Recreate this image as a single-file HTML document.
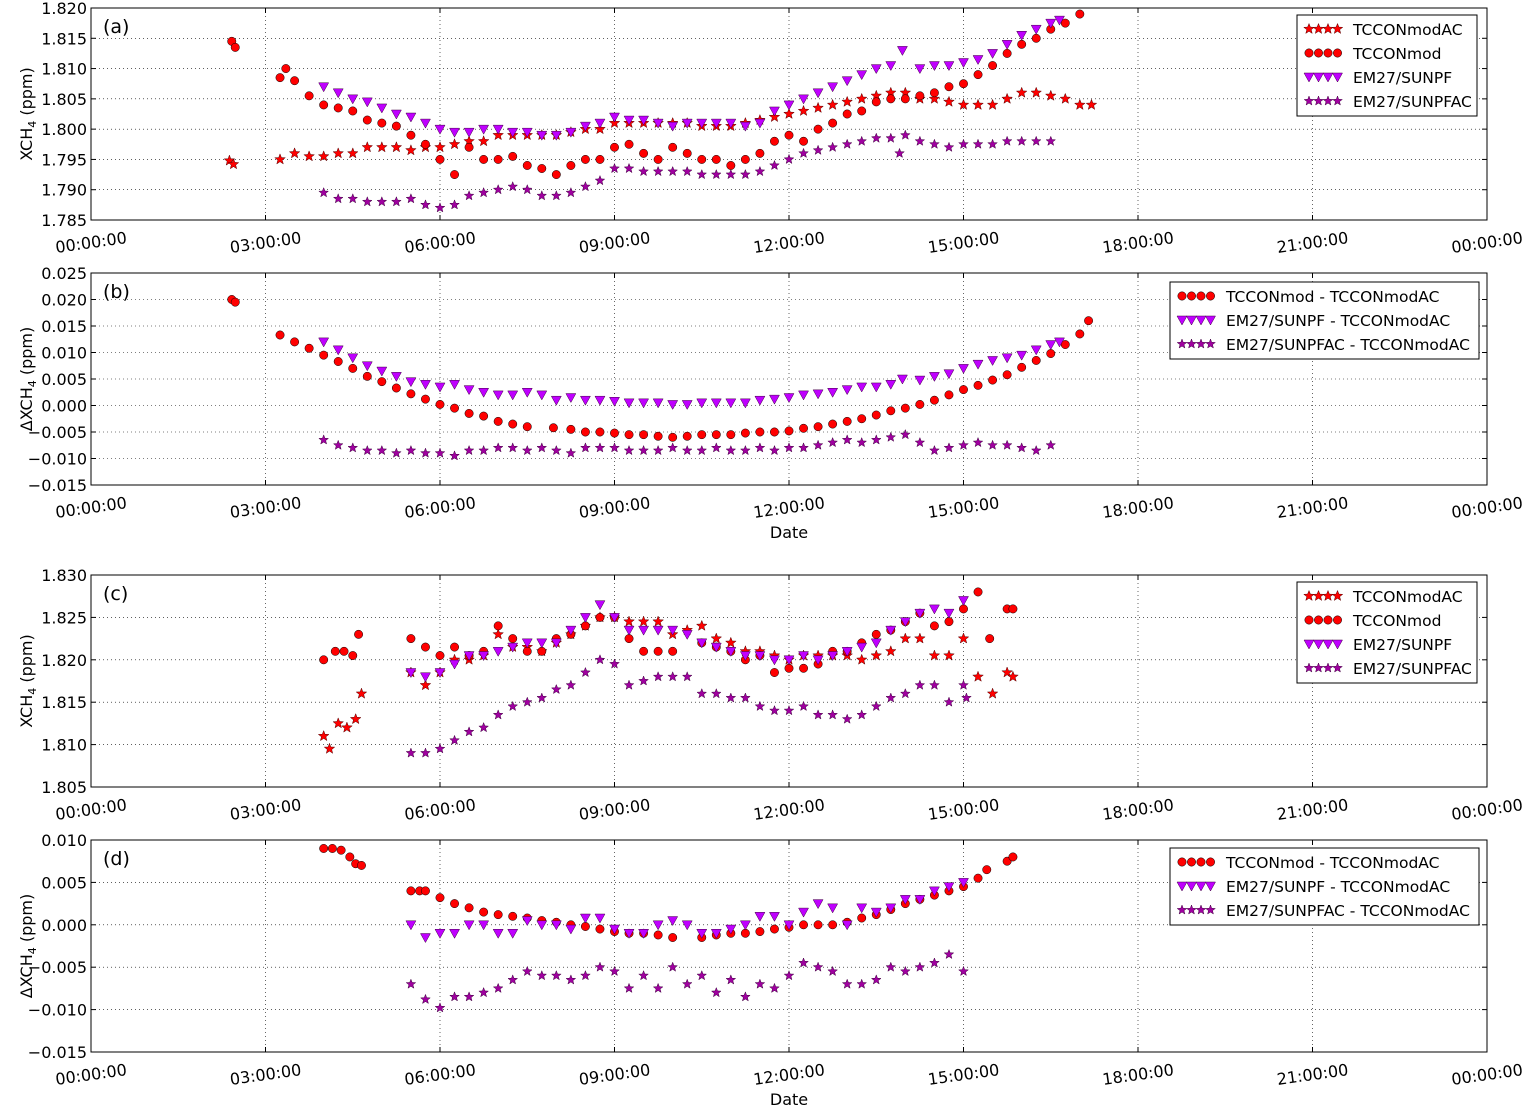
<!DOCTYPE html>
<html><head><meta charset="utf-8">
<style>
body{margin:0;background:#fff;}
svg{display:block;font-family:"DejaVu Sans","Liberation Sans",sans-serif;}
</style></head>
<body>
<svg id="chart" width="1526" height="1106" viewBox="0 0 1526 1106" xmlns="http://www.w3.org/2000/svg"></svg>
<script>
// ---------- Panel (a) data ----------
const aModACT=[2.38,2.45,3.25,3.5,3.75,4.0,4.25,4.5,4.75,5.0,5.25,5.5,5.75,6.0,6.25,6.5,6.75,7.0,7.25,7.5,7.75,8.0,8.25,8.5,8.75,9.0,9.25,9.5,9.75,10.0,10.25,10.5,10.75,11.0,11.25,11.5,11.75,12.0,12.25,12.5,12.75,13.0,13.25,13.5,13.75,14.0,14.25,14.5,14.75,15.0,15.25,15.5,15.75,16.0,16.25,16.5,16.75,17.0,17.2];
const aModACV=[1.7948,1.7942,1.795,1.796,1.7955,1.7955,1.796,1.796,1.797,1.797,1.797,1.7965,1.797,1.797,1.7975,1.798,1.798,1.799,1.799,1.799,1.799,1.799,1.7995,1.800,1.800,1.801,1.801,1.801,1.801,1.801,1.801,1.8005,1.8005,1.8005,1.801,1.8015,1.802,1.8025,1.803,1.8035,1.804,1.8045,1.805,1.8055,1.806,1.806,1.805,1.805,1.8045,1.804,1.804,1.804,1.805,1.806,1.806,1.8055,1.805,1.804,1.804];
const aModT=[2.42,2.48,3.25,3.35,3.5,3.75,4.0,4.25,4.5,4.75,5.0,5.25,5.5,5.75,6.0,6.25,6.5,6.75,7.0,7.25,7.5,7.75,8.0,8.25,8.5,8.75,9.0,9.25,9.5,9.75,10.0,10.25,10.5,10.75,11.0,11.25,11.5,11.75,12.0,12.25,12.5,12.75,13.0,13.25,13.5,13.75,14.0,14.25,14.5,14.75,15.0,15.25,15.5,15.75,16.0,16.25,16.5,16.75,17.0];
const aModV=[1.8145,1.8135,1.8085,1.810,1.808,1.8055,1.804,1.8035,1.803,1.8015,1.801,1.8005,1.799,1.7975,1.795,1.7925,1.797,1.795,1.795,1.7955,1.794,1.7935,1.7925,1.794,1.795,1.795,1.797,1.7975,1.796,1.795,1.797,1.796,1.795,1.795,1.794,1.795,1.796,1.798,1.799,1.798,1.800,1.801,1.8025,1.803,1.8045,1.805,1.805,1.8055,1.806,1.807,1.8075,1.809,1.8105,1.8125,1.814,1.815,1.8165,1.8175,1.819];
const aPfT=[4.0,4.25,4.5,4.75,5.0,5.25,5.5,5.75,6.0,6.25,6.5,6.75,7.0,7.25,7.5,7.75,8.0,8.25,8.5,8.75,9.0,9.25,9.5,9.75,10.0,10.25,10.5,10.75,11.0,11.25,11.5,11.75,12.0,12.25,12.5,12.75,13.0,13.25,13.5,13.75,13.95,14.25,14.5,14.75,15.0,15.25,15.5,15.75,16.0,16.25,16.5,16.65];
const aPfV=[1.807,1.806,1.805,1.8045,1.8035,1.8025,1.802,1.801,1.800,1.7995,1.7995,1.800,1.800,1.7995,1.7995,1.799,1.799,1.7995,1.8005,1.801,1.802,1.8015,1.8015,1.801,1.8005,1.801,1.801,1.801,1.801,1.8005,1.801,1.803,1.804,1.805,1.806,1.807,1.808,1.809,1.810,1.8105,1.813,1.810,1.8105,1.8105,1.811,1.8115,1.8125,1.814,1.8155,1.8165,1.8175,1.818];
const aPfacT=[4.0,4.25,4.5,4.75,5.0,5.25,5.5,5.75,6.0,6.25,6.5,6.75,7.0,7.25,7.5,7.75,8.0,8.25,8.5,8.75,9.0,9.25,9.5,9.75,10.0,10.25,10.5,10.75,11.0,11.25,11.5,11.75,12.0,12.25,12.5,12.75,13.0,13.25,13.5,13.75,13.9,14.0,14.25,14.5,14.75,15.0,15.25,15.5,15.75,16.0,16.25,16.5];
const aPfacV=[1.7895,1.7885,1.7885,1.788,1.788,1.788,1.7885,1.7875,1.787,1.7875,1.789,1.7895,1.790,1.7905,1.790,1.789,1.789,1.7895,1.7905,1.7915,1.7935,1.7935,1.793,1.793,1.793,1.793,1.7925,1.7925,1.7925,1.7925,1.793,1.794,1.795,1.796,1.7965,1.797,1.7975,1.798,1.7985,1.7985,1.796,1.799,1.798,1.7975,1.797,1.7975,1.7975,1.7975,1.798,1.798,1.798,1.798];
// ---------- Panel (b) data ----------
const bModT=[2.42,2.48,3.25,3.5,3.75,4.0,4.25,4.5,4.75,5.0,5.25,5.5,5.75,6.0,6.25,6.5,6.75,7.0,7.25,7.5,7.95,8.25,8.5,8.75,9.0,9.25,9.5,9.75,10.0,10.25,10.5,10.75,11.0,11.25,11.5,11.75,12.0,12.25,12.5,12.75,13.0,13.25,13.5,13.75,14.0,14.25,14.5,14.75,15.0,15.25,15.5,15.75,16.0,16.25,16.5,16.75,17.0,17.15];
const bModV=[0.020,0.0195,0.0133,0.012,0.0108,0.0095,0.0083,0.007,0.0055,0.0045,0.0033,0.0022,0.0012,0.0002,-0.0005,-0.0015,-0.002,-0.003,-0.0035,-0.004,-0.0042,-0.0045,-0.005,-0.005,-0.0052,-0.0055,-0.0055,-0.0058,-0.006,-0.0058,-0.0055,-0.0055,-0.0055,-0.0052,-0.005,-0.005,-0.0048,-0.0043,-0.004,-0.0035,-0.003,-0.0025,-0.0018,-0.001,-0.0005,0.0002,0.001,0.002,0.003,0.0038,0.0048,0.0058,0.0072,0.0085,0.0098,0.0115,0.0135,0.016];
const bPfT=aPfT;
const bPfV=[0.012,0.0105,0.009,0.0075,0.0065,0.0055,0.0045,0.004,0.0035,0.004,0.003,0.0025,0.002,0.002,0.0025,0.002,0.001,0.0015,0.001,0.001,0.0008,0.0005,0.0005,0.0005,0.0002,0.0002,0.0005,0.0005,0.0005,0.0005,0.001,0.0012,0.0015,0.002,0.0022,0.0025,0.003,0.0035,0.0035,0.004,0.005,0.0048,0.0055,0.006,0.007,0.0078,0.0085,0.009,0.0095,0.0105,0.0115,0.012];
const bPfacT=[4.0,4.25,4.5,4.75,5.0,5.25,5.5,5.75,6.0,6.25,6.5,6.75,7.0,7.25,7.5,7.75,8.0,8.25,8.5,8.75,9.0,9.25,9.5,9.75,10.0,10.25,10.5,10.75,11.0,11.25,11.5,11.75,12.0,12.25,12.5,12.75,13.0,13.25,13.5,13.75,14.0,14.25,14.5,14.75,15.0,15.25,15.5,15.75,16.0,16.25,16.5];
const bPfacV=[-0.0065,-0.0075,-0.008,-0.0085,-0.0085,-0.009,-0.0085,-0.009,-0.009,-0.0095,-0.0085,-0.0085,-0.008,-0.008,-0.0085,-0.008,-0.0085,-0.009,-0.008,-0.008,-0.008,-0.0085,-0.0085,-0.0085,-0.008,-0.0085,-0.0085,-0.008,-0.0085,-0.0085,-0.008,-0.0085,-0.008,-0.008,-0.0075,-0.007,-0.0065,-0.007,-0.0065,-0.006,-0.0055,-0.007,-0.0085,-0.008,-0.0075,-0.007,-0.0075,-0.0075,-0.008,-0.0085,-0.0075];
// ---------- Panel (c) data ----------
const cModT=[4.0,4.2,4.35,4.5,4.6,5.5,5.75,6.0,6.25,6.5,6.75,7.0,7.25,7.5,7.75,8.0,8.25,8.5,8.75,9.0,9.25,9.5,9.75,10.0,10.5,10.75,11.0,11.25,11.5,11.75,12.0,12.25,12.5,12.75,13.0,13.25,13.5,13.75,14.0,14.25,14.5,14.75,15.0,15.25,15.45,15.75,15.85];
const cModV=[1.820,1.821,1.821,1.8205,1.823,1.8225,1.8215,1.8205,1.8215,1.8205,1.821,1.824,1.8225,1.821,1.821,1.8225,1.823,1.824,1.825,1.825,1.8225,1.821,1.821,1.821,1.822,1.8215,1.821,1.820,1.8205,1.8185,1.819,1.819,1.8195,1.821,1.821,1.822,1.823,1.8235,1.8245,1.8255,1.824,1.8245,1.826,1.828,1.8225,1.826,1.826];
const cModACT=[4.0,4.1,4.25,4.4,4.55,4.65,5.5,5.75,6.0,6.25,6.5,6.75,7.0,7.25,7.5,7.75,8.0,8.25,8.5,8.75,9.0,9.25,9.5,9.75,10.0,10.25,10.5,10.75,11.0,11.25,11.5,11.75,12.0,12.25,12.5,12.75,13.0,13.25,13.5,13.75,14.0,14.25,14.5,14.75,15.0,15.25,15.5,15.75,15.85];
const cModACV=[1.811,1.8095,1.8125,1.812,1.813,1.816,1.8185,1.817,1.8185,1.820,1.820,1.8205,1.823,1.8215,1.8215,1.821,1.822,1.823,1.824,1.825,1.825,1.8245,1.8245,1.8245,1.823,1.8235,1.824,1.8225,1.822,1.821,1.821,1.8205,1.820,1.8205,1.8205,1.8205,1.8205,1.820,1.8205,1.821,1.8225,1.8225,1.8205,1.8205,1.8225,1.818,1.816,1.8185,1.818];
const cPfT=[5.5,5.75,6.0,6.25,6.5,6.75,7.0,7.25,7.5,7.75,8.0,8.25,8.5,8.75,9.0,9.25,9.5,9.75,10.0,10.25,10.5,10.75,11.0,11.25,11.5,11.75,12.0,12.25,12.5,12.75,13.0,13.25,13.5,13.75,14.0,14.25,14.5,14.75,15.0];
const cPfV=[1.8185,1.818,1.8185,1.8195,1.8205,1.8205,1.821,1.8215,1.822,1.822,1.822,1.8235,1.825,1.8265,1.825,1.8235,1.8235,1.8235,1.8235,1.823,1.822,1.8215,1.821,1.8205,1.8205,1.820,1.820,1.8205,1.820,1.8205,1.821,1.8215,1.822,1.8235,1.8245,1.8255,1.826,1.8255,1.827];
const cPfacT=[5.5,5.75,6.0,6.25,6.5,6.75,7.0,7.25,7.5,7.75,8.0,8.25,8.5,8.75,9.0,9.25,9.5,9.75,10.0,10.25,10.5,10.75,11.0,11.25,11.5,11.75,12.0,12.25,12.5,12.75,13.0,13.25,13.5,13.75,14.0,14.25,14.5,14.75,15.0,15.05];
const cPfacV=[1.809,1.809,1.8095,1.8105,1.8115,1.812,1.8135,1.8145,1.815,1.8155,1.8165,1.817,1.8185,1.820,1.8195,1.817,1.8175,1.818,1.818,1.818,1.816,1.816,1.8155,1.8155,1.8145,1.814,1.814,1.8145,1.8135,1.8135,1.813,1.8135,1.8145,1.8155,1.816,1.817,1.817,1.815,1.817,1.8155];
// ---------- Panel (d) data ----------
const dModT=[4.0,4.15,4.3,4.45,4.55,4.65,5.5,5.65,5.75,6.0,6.25,6.5,6.75,7.0,7.25,7.5,7.75,8.0,8.25,8.5,8.75,9.0,9.25,9.5,9.75,10.0,10.5,10.75,11.0,11.25,11.5,11.75,12.0,12.25,12.5,12.75,13.0,13.25,13.5,13.75,14.0,14.25,14.5,14.75,15.0,15.25,15.4,15.75,15.85];
const dModV=[0.009,0.009,0.0088,0.008,0.0072,0.007,0.004,0.004,0.004,0.0032,0.0025,0.002,0.0015,0.0012,0.001,0.0008,0.0005,0.0003,0.0,-0.0002,-0.0005,-0.0008,-0.001,-0.001,-0.0012,-0.0015,-0.0015,-0.0012,-0.001,-0.001,-0.0008,-0.0005,-0.0003,0.0,0.0,0.0,0.0003,0.0008,0.0012,0.0018,0.0025,0.003,0.0035,0.004,0.0045,0.0055,0.0065,0.0075,0.008];
const dPfT=cPfT;
const dPfV=[0.0,-0.0015,-0.001,-0.001,0.0,0.0,-0.001,-0.001,0.0005,0.0,0.0,-0.0005,0.0008,0.0008,-0.0005,-0.001,-0.001,0.0,0.0005,0.0,-0.001,-0.001,-0.0005,0.0,0.001,0.001,0.0,0.0015,0.0025,0.002,0.0,0.002,0.0015,0.002,0.003,0.003,0.004,0.0045,0.005];
const dPfacT=[5.5,5.75,6.0,6.25,6.5,6.75,7.0,7.25,7.5,7.75,8.0,8.25,8.5,8.75,9.0,9.25,9.5,9.75,10.0,10.25,10.5,10.75,11.0,11.25,11.5,11.75,12.0,12.25,12.5,12.75,13.0,13.25,13.5,13.75,14.0,14.25,14.5,14.75,15.0];
const dPfacV=[-0.007,-0.0088,-0.0098,-0.0085,-0.0085,-0.008,-0.0075,-0.0065,-0.0055,-0.006,-0.006,-0.0065,-0.006,-0.005,-0.0055,-0.0075,-0.006,-0.0075,-0.005,-0.007,-0.006,-0.008,-0.0065,-0.0085,-0.007,-0.0075,-0.006,-0.0045,-0.005,-0.0055,-0.007,-0.007,-0.0065,-0.005,-0.0055,-0.005,-0.0045,-0.0035,-0.0055];
// ---------- Tick labels ----------
const xTickLabels=["00:00:00","03:00:00","06:00:00","09:00:00","12:00:00","15:00:00","18:00:00","21:00:00","00:00:00"];
const xTickHours=[0,3,6,9,12,15,18,21,24];
const aYTicks=[1.785,1.790,1.795,1.800,1.805,1.810,1.815,1.820];
const bYTicks=[-0.015,-0.010,-0.005,0.000,0.005,0.010,0.015,0.020,0.025];
const cYTicks=[1.805,1.810,1.815,1.820,1.825,1.830];
const dYTicks=[-0.015,-0.010,-0.005,0.000,0.005,0.010];

const NS="http://www.w3.org/2000/svg";
const svg=document.getElementById('chart');
function mk(tag,attrs,parent){const e=document.createElementNS(NS,tag);for(const k in attrs)e.setAttribute(k,attrs[k]);(parent||svg).appendChild(e);return e;}

const L=91,R=1487;
function xScale(h){return L+(R-L)*h/24;}

const STY={
  modAC:{shape:'star',fill:'#ff0000',stroke:'#550000',size:5.5},
  mod:{shape:'circle',fill:'#ff0000',stroke:'#000',size:4.2},
  pf:{shape:'tri',fill:'#bf00ff',stroke:'#400040',size:5},
  pfac:{shape:'star',fill:'#a000a0',stroke:'#400040',size:5}
};
function marker(g,s,x,y){
  if(s.shape==='circle'){return mk('circle',{cx:x,cy:y,r:s.size,fill:s.fill,stroke:s.stroke,'stroke-width':0.5},g);}
  if(s.shape==='tri'){const r=s.size;return mk('polygon',{points:`${x-r},${y-r*0.8} ${x+r},${y-r*0.8} ${x},${y+r}`,fill:s.fill,stroke:s.stroke,'stroke-width':0.5},g);}
  const r=s.size,ri=r*0.42;let p=[];
  for(let i=0;i<10;i++){const a=-Math.PI/2+i*Math.PI/5;const rr=i%2?ri:r;p.push((x+rr*Math.cos(a)).toFixed(1)+','+(y+rr*Math.sin(a)).toFixed(1));}
  return mk('polygon',{points:p.join(' '),fill:s.fill,stroke:s.stroke,'stroke-width':0.5},g);
}
function fmt(v,d){return v.toFixed(d).replace('-','\u2212');}

function panel(id,top,bottom,yTicks,dec,ylabel,series,legend,showDate){
  const g=mk('g',{});
  
  
  const y0=yTicks[0],y1=yTicks[yTicks.length-1];
  const yScale=v=>bottom-(v-y0)/(y1-y0)*(bottom-top);
  const grid=mk('g',{},g);
  
  
  xTickHours.forEach(h=>{mk('line',{x1:xScale(h),x2:xScale(h),y1:top,y2:bottom,stroke:'#000','stroke-width':0.6,'stroke-dasharray':'1,3'},grid);});
  yTicks.forEach(v=>{mk('line',{x1:L,x2:R,y1:yScale(v),y2:yScale(v),stroke:'#000','stroke-width':0.6,'stroke-dasharray':'1,3'},grid);});
  series.forEach(s=>{
    const sg=mk('g',{},g);
    
    
    s.t.forEach((h,i)=>{const v=s.v[i];if(v==null)return;const m=marker(sg,STY[s.key],xScale(h),yScale(v));
      
      });
  });
  const fr=mk('rect',{x:L,y:top,width:R-L,height:bottom-top,fill:'none',stroke:'#000','stroke-width':1},g);
  
  
  const yax=mk('g',{},g);
  
  
  yTicks.forEach(v=>{const y=yScale(v);
    mk('line',{x1:L,x2:L+5,y1:y,y2:y,stroke:'#000'},yax);mk('line',{x1:R,x2:R-5,y1:y,y2:y,stroke:'#000'},yax);
    const t=mk('text',{x:L-4,y:y+6,'text-anchor':'end','font-size':16},yax);t.textContent=fmt(v,dec);
    
    });
  const xax=mk('g',{},g);
  
  
  xTickHours.forEach((h,i)=>{const x=xScale(h);
    mk('line',{x1:x,x2:x,y1:bottom,y2:bottom-5,stroke:'#000'},xax);mk('line',{x1:x,x2:x,y1:top,y2:top+5,stroke:'#000'},xax);
    const t=mk('text',{x:x,y:bottom+28,'text-anchor':'middle','font-size':16,transform:`rotate(-8 ${x} ${bottom+22})`},xax);t.textContent=xTickLabels[i];
    
    });
  const cy=(top+bottom)/2;
  const yl=mk('text',{x:0,y:0,'text-anchor':'middle','font-size':16,transform:`translate(32 ${cy}) rotate(-90)`},g);
  yl.innerHTML=ylabel;
  
  
  const pl=mk('text',{x:103,y:top+25,'font-size':19},g);pl.textContent='('+id+')';
  
  
  if(showDate){const d=mk('text',{x:(L+R)/2,y:bottom+53,'text-anchor':'middle','font-size':16},g);d.textContent='Date';
    
    }
  const lg=mk('g',{},g);
  
  
  mk('rect',{x:legend.x,y:legend.y,width:legend.w,height:legend.entries.length*24+5,fill:'#fff',stroke:'#000'},lg);
  legend.entries.forEach((e,i)=>{const yy=legend.y+14+i*24;
    const eg=mk('g',{},lg);
    
    
    for(let k=0;k<4;k++)marker(eg,STY[e.key],legend.x+12+k*9.5,yy);
    const t=mk('text',{x:legend.x+56,y:yy+6,'font-size':15.5},eg);t.textContent=e.label;});
}

const XL='XCH<tspan font-size="11" dy="4">4</tspan><tspan dy="-4"> (ppm)</tspan>';
const DXL='\u0394XCH<tspan font-size="11" dy="4">4</tspan><tspan dy="-4"> (ppm)</tspan>';
const leg4=[{key:'modAC',label:'TCCONmodAC'},{key:'mod',label:'TCCONmod'},{key:'pf',label:'EM27/SUNPF'},{key:'pfac',label:'EM27/SUNPFAC'}];
const leg3=[{key:'mod',label:'TCCONmod - TCCONmodAC'},{key:'pf',label:'EM27/SUNPF - TCCONmodAC'},{key:'pfac',label:'EM27/SUNPFAC - TCCONmodAC'}];

panel('a',8,220,aYTicks,3,XL,[
 {name:'tcconmodac',key:'modAC',t:aModACT,v:aModACV},
 {name:'tcconmod',key:'mod',t:aModT,v:aModV},
 {name:'em27-sunpf',key:'pf',t:aPfT,v:aPfV},
 {name:'em27-sunpfac',key:'pfac',t:aPfacT,v:aPfacV}],{x:1297,y:15,w:180,entries:leg4},false);
panel('b',273,485,bYTicks,3,DXL,[
 {name:'tcconmod-diff',key:'mod',t:bModT,v:bModV},
 {name:'em27-sunpf-diff',key:'pf',t:bPfT,v:bPfV},
 {name:'em27-sunpfac-diff',key:'pfac',t:bPfacT,v:bPfacV}],{x:1170,y:282,w:309,entries:leg3},true);
panel('c',575,787,cYTicks,3,XL,[
 {name:'tcconmodac',key:'modAC',t:cModACT,v:cModACV},
 {name:'tcconmod',key:'mod',t:cModT,v:cModV},
 {name:'em27-sunpf',key:'pf',t:cPfT,v:cPfV},
 {name:'em27-sunpfac',key:'pfac',t:cPfacT,v:cPfacV}],{x:1297,y:582,w:180,entries:leg4},false);
panel('d',840,1052,dYTicks,3,DXL,[
 {name:'tcconmod-diff',key:'mod',t:dModT,v:dModV},
 {name:'em27-sunpf-diff',key:'pf',t:dPfT,v:dPfV},
 {name:'em27-sunpfac-diff',key:'pfac',t:dPfacT,v:dPfacV}],{x:1170,y:848,w:309,entries:leg3},true);
</script>
</body></html>
